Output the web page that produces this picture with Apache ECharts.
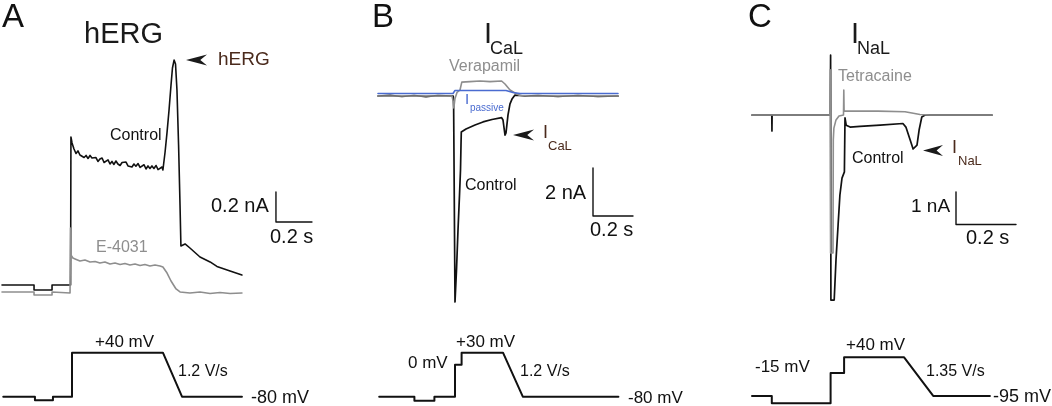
<!DOCTYPE html>
<html><head><meta charset="utf-8">
<script src="https://cdn.jsdelivr.net/npm/echarts@6/dist/echarts.min.js"></script>
<style>html,body{margin:0;padding:0;background:#fff}#c{width:1052px;height:406px}</style>
</head><body><div id="c"></div>
<script>
// ---- Panel A: hERG (time ms, current nA) ----
const hergControl = [[0,0.053],[178,0.053],[178,0.02],[278,0.02],[278,0.053],[381,0.053],[383,1.04],[389,1.0],[400,0.96],[411,0.93],[422,0.947],[433,0.92],[444,0.933],[456,0.903],[467,0.917],[478,0.897],[489,0.917],[500,0.9],[511,0.887],[522,0.903],[533,0.877],[544,0.893],[556,0.9],[567,0.87],[578,0.88],[589,0.887],[600,0.86],[611,0.877],[622,0.857],[633,0.88],[644,0.86],[656,0.85],[667,0.87],[678,0.86],[689,0.873],[700,0.847],[711,0.86],[722,0.84],[733,0.86],[744,0.845],[756,0.863],[767,0.837],[778,0.847],[789,0.855],[800,0.827],[811,0.847],[822,0.83],[833,0.847],[844,0.83],[856,0.85],[867,0.823],[878,0.827],[889,0.84],[894,0.82],[906,0.94],[917,1.073],[928,1.22],[939,1.387],[947,1.5],[956,1.553],[964,1.527],[972,1.353],[981,0.987],[989,0.587],[994,0.313],[1000,0.313],[1017,0.327],[1044,0.3],[1100,0.24],[1156,0.207],[1194,0.177],[1267,0.147],[1333,0.12]];
const hergE4031 = [[0,0.007],[178,0.007],[178,-0.013],[278,-0.013],[278,0.007],[378,0],[381,0.433],[383,0.253],[394,0.233],[406,0.227],[433,0.213],[461,0.22],[489,0.207],[517,0.21],[544,0.2],[572,0.207],[600,0.193],[628,0.2],[656,0.19],[683,0.197],[711,0.187],[739,0.193],[767,0.183],[794,0.19],[822,0.18],[850,0.187],[878,0.18],[894,0.173],[917,0.133],[939,0.08],[967,0.027],[989,0.007],[1044,0],[1100,0.007],[1156,-0.003],[1211,0.003],[1267,-0.003],[1333,0]];
const hergProtocol = [[7,-80],[183,-80],[183,-90],[283,-90],[283,-80],[389,-80],[389,40],[894,40],[1000,-80],[1333,-80]];
const hergScale = [[1522,0.673],[1522,0.473],[1722,0.473]]; // 0.2 nA, 0.2 s

// ---- Panel B: ICaL ----
const calControl = [[0,0],[60,0.03],[120,-0.02],[180,0.02],[240,-0.03],[300,0.02],[376,0],[378,-0.2],[385,-8.58],[392.5,-7.25],[400,-5.58],[407.5,-4.13],[412.5,-3.08],[415,-2.04],[416.5,-1.5],[425,-1.42],[440,-1.375],[485,-1.21],[525,-1.08],[570,-0.98],[618,-0.9],[625,-1.0],[635,-1.63],[640,-1.54],[650,-0.79],[660,-0.33],[670,-0.13],[685,0.04],[710,0.02],[735,0],[800,0.02],[900,-0.02],[1000,0.02],[1100,-0.02],[1200,0]];
const calVerapamil = [[0,0],[370,0],[375,-0.2],[379,-0.5],[385,-0.1],[395,0.15],[410,0.25],[417,0.29],[419,0.58],[460,0.6],[510,0.625],[560,0.6],[618,0.625],[635,0.5],[660,0.25],[685,0.125],[710,0.02],[760,0],[1200,0]];
const calPassive = [[0,0.104],[375,0.104],[385,0.23],[640,0.23],[675,0.146],[710,0.104],[1200,0.104]];
const calProtocol = [[6,-80],[182,-80],[182,-90],[282,-90],[282,-80],[385,-80],[385,0],[418,0],[418,30],[625,30],[724,-80],[1202,-80]];
const calScale = [[1075,-3],[1075,-5],[1275,-5]]; // 2 nA, 0.2 s

// ---- Panel C: INaL ----
const nalControl = [[0,0],[66,0],[66.5,-0.49],[67,0],[261,0],[262,1.83],[263,-5.66],[274,-5.66],[280,-4.43],[287,-3.36],[293,-2.45],[300,-1.93],[308,-1.74],[310,-0.09],[314,-0.31],[327,-0.37],[360,-0.35],[427,-0.31],[503,-0.26],[513,-0.37],[527,-0.76],[537,-1.04],[543,-1.07],[550,-0.92],[557,-0.46],[566,-0.06],[577,0],[800,0]];
const nalTetracaine = [[0,0],[260,0],[261,1.38],[262,-4.22],[270,-4.22],[271,-0.76],[273,-0.4],[280,-0.15],[290,-0.03],[305,0],[306,0.76],[307,0.12],[330,0.12],[420,0.12],[510,0.1],[533,0.06],[560,0.015],[593,0],[800,0]];
const nalProtocol = [[0,-95],[66,-95],[66,-120],[262,-120],[262,-15],[307,-15],[307,40],[507,40],[604,-95],[793,-95]];
const nalScale = [[680,-2.35],[680,-3.35],[880,-3.35]]; // 1 nA, 0.2 s

const FONT = "'Liberation Sans', Arial, Helvetica, sans-serif";
const BLACK = '#111111', GRAY = '#8e8e8e', BLUE = '#4a6bd0', BROWN = '#4a2a1c';

const layout = [
  {left:2,   top:23,     width:324, height:285,    xMax:1800, yMin:-0.1, yMax:1.8},
  {left:2,   top:345.37, width:324, height:58.67,  xMax:1800, yMin:-100, yMax:60},
  {left:378, top:72,     width:280, height:240,    xMax:1400, yMin:-9,   yMax:1},
  {left:378, top:344.7,  width:280, height:60,     xMax:1400, yMin:-100, yMax:50},
  {left:752, top:49.6,   width:300, height:261.6,  xMax:1000, yMin:-6,   yMax:2},
  {left:752, top:351.56, width:300, height:54.47,  xMax:1000, yMin:-130, yMax:60}
];

function line(g, data, color, width, z) {
  return {type:'line', xAxisIndex:g, yAxisIndex:g, data:data, showSymbol:false, symbol:'none',
    lineStyle:{color:color, width:width, join:'round', cap:'round'}, z:z||2, silent:true, clip:false, animation:false};
}
function txt(x, y, s, size, color, extra) {
  return Object.assign({type:'text', x:x, y:y, silent:true, z:100,
    style:{text:s, font: size + 'px ' + FONT, fill:color||BLACK, verticalAlign:'middle', align:'left'}}, extra||{});
}
function arrow(tx, ty, len, half) {
  return {type:'polygon', silent:true, z:100,
    shape:{points:[[tx,ty],[tx+len,ty-half],[tx+len*0.68,ty],[tx+len,ty+half]]},
    style:{fill:'#1a1a1a'}};
}

const option = {
  animation:false,
  backgroundColor:'#ffffff',
  grid: layout.map(l => ({left:l.left, top:l.top, width:l.width, height:l.height, containLabel:false})),
  xAxis: layout.map((l,i) => ({type:'value', gridIndex:i, min:0, max:l.xMax, show:false})),
  yAxis: layout.map((l,i) => ({type:'value', gridIndex:i, min:l.yMin, max:l.yMax, show:false})),
  series: [
    line(0, hergControl, BLACK, 1.6, 2),
    line(0, hergE4031, GRAY, 1.6, 3),
    line(0, hergScale, BLACK, 1.4, 2),
    line(1, hergProtocol, BLACK, 2, 2),
    line(2, calControl, BLACK, 1.7, 2),
    line(2, calVerapamil, GRAY, 1.6, 3),
    line(2, calPassive, BLUE, 1.6, 4),
    line(2, calScale, BLACK, 1.4, 2),
    line(3, calProtocol, BLACK, 2, 2),
    line(4, nalControl, BLACK, 1.7, 2),
    line(4, nalTetracaine, GRAY, 1.6, 3),
    line(4, nalScale, BLACK, 1.4, 2),
    line(5, nalProtocol, BLACK, 2, 2)
  ],
  graphic: [
    // Panel A
    txt(2, 18, 'A', 33),
    txt(84, 35, 'hERG', 29, '#1a1a1a'),
    arrow(186, 60, 21, 5.5),
    txt(218, 60, 'hERG', 19, BROWN),
    txt(110, 136, 'Control', 16),
    txt(211, 206, '0.2 nA', 20),
    txt(270, 237, '0.2 s', 20),
    txt(96, 248, 'E-4031', 16, GRAY),
    txt(95, 342, '+40 mV', 17),
    txt(178, 372, '1.2 V/s', 16),
    txt(251, 398, '-80 mV', 18),
    // Panel B
    txt(372, 18, 'B', 33),
    txt(484, 35, 'I', 29, '#1a1a1a'),
    txt(490, 49, 'CaL', 18, '#1a1a1a'),
    txt(449, 67, 'Verapamil', 16, GRAY),
    txt(465, 100, 'I', 15, BLUE),
    txt(470, 108, 'passive', 10, BLUE),
    arrow(513, 135, 21, 5.5),
    txt(543, 133.5, 'I', 18, BROWN),
    txt(548, 146, 'CaL', 13, BROWN),
    txt(465, 186, 'Control', 16),
    txt(545, 193, '2 nA', 20),
    txt(590, 230, '0.2 s', 20),
    txt(408, 363, '0 mV', 17),
    txt(456, 342, '+30 mV', 17),
    txt(520, 372, '1.2 V/s', 16),
    txt(628, 398, '-80 mV', 17),
    // Panel C
    txt(748, 18, 'C', 33),
    txt(851, 35, 'I', 29, '#1a1a1a'),
    txt(857, 49, 'NaL', 18, '#1a1a1a'),
    txt(838, 77, 'Tetracaine', 16, GRAY),
    arrow(923, 150.5, 20, 5.5),
    txt(952, 148.5, 'I', 18, BROWN),
    txt(958, 161, 'NaL', 13, BROWN),
    txt(852, 159, 'Control', 16),
    txt(911, 207, '1 nA', 19),
    txt(966, 238, '0.2 s', 20),
    txt(755, 367, '-15 mV', 17),
    txt(846, 345, '+40 mV', 17),
    txt(926, 372, '1.35 V/s', 16),
    txt(993, 397, '-95 mV', 18)
  ]
};
const chart = echarts.init(document.getElementById('c'), null, {renderer:'canvas'});
chart.setOption(option);
</script></body></html>
